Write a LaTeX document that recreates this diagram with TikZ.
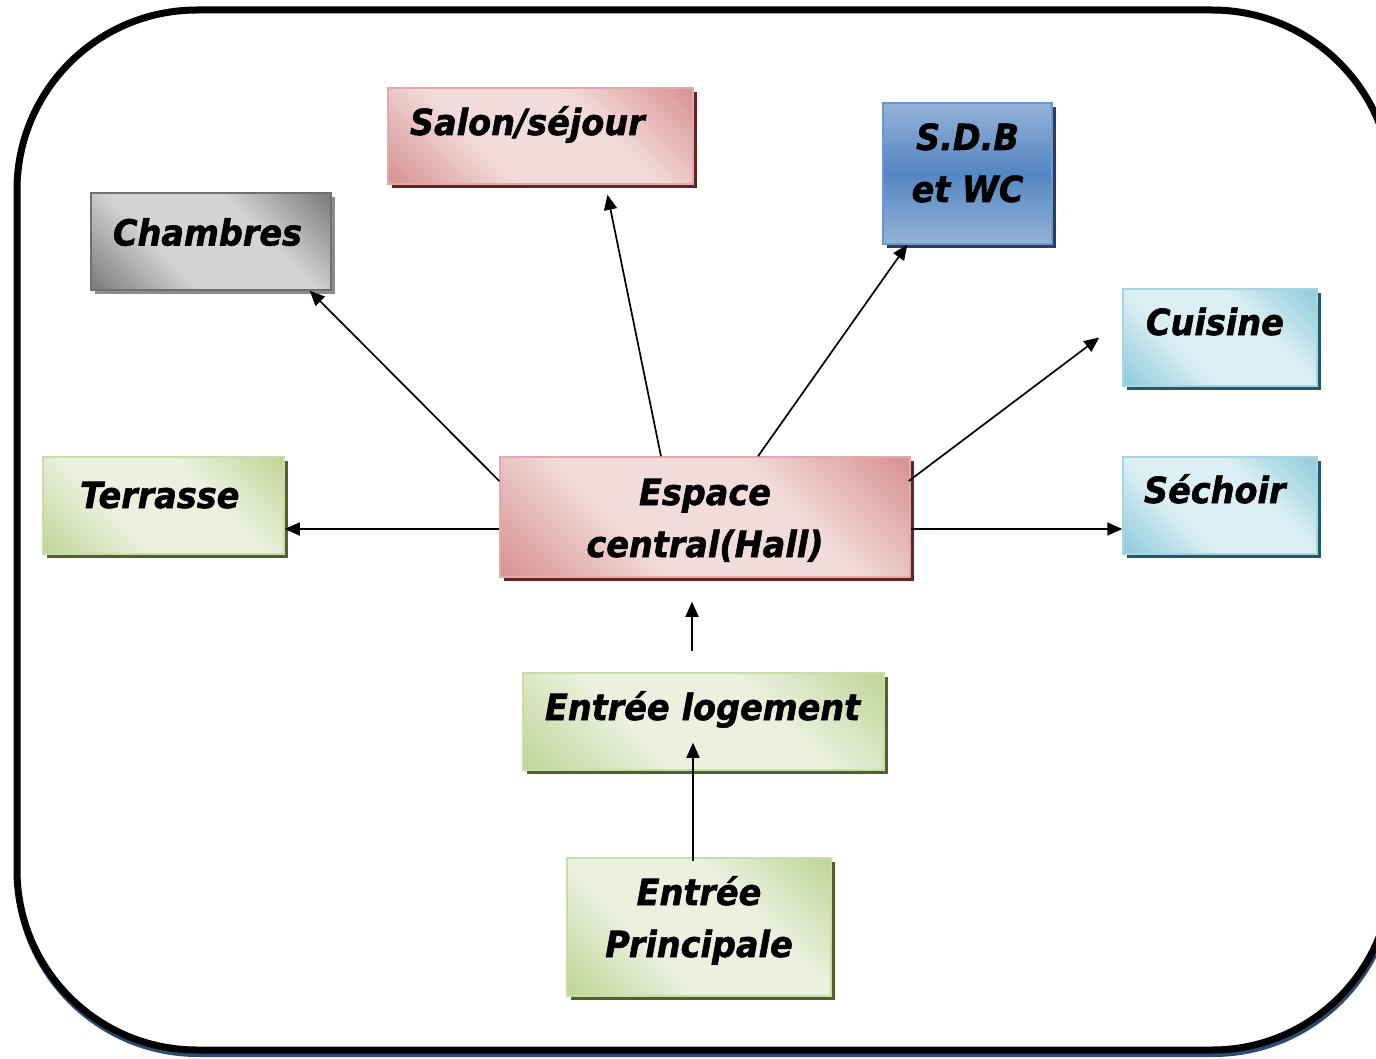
\documentclass[tikz,border=0pt]{standalone}
\usepackage{fontspec}
\setmainfont{DejaVu Sans}[
  BoldFont={DejaVu Sans Bold},
  ItalicFont={DejaVu Sans Oblique},
  BoldItalicFont={DejaVu Sans Bold Oblique},
  BoldItalicFeatures={FakeBold=1.5, FakeStretch=0.93}]
\usetikzlibrary{arrows.meta,shadows,calc}

% palette
\definecolor{pinkDark}{HTML}{D99594}
\definecolor{pinkLight}{HTML}{F2DCDB}
\definecolor{pinkEdge}{HTML}{E2ABAA}
\definecolor{pinkShadow}{HTML}{632523}
\definecolor{greenDark}{HTML}{C2D69B}
\definecolor{greenLight}{HTML}{EBF1DE}
\definecolor{greenEdge}{HTML}{CADCA8}
\definecolor{greenShadow}{HTML}{4F6228}
\definecolor{cyanDark}{HTML}{92CDDC}
\definecolor{cyanLight}{HTML}{DCEFF4}
\definecolor{cyanEdge}{HTML}{A5D6E2}
\definecolor{cyanShadow}{HTML}{215968}
\definecolor{grayDark}{HTML}{7F7F7F}
\definecolor{grayLight}{HTML}{D4D4D4}
\definecolor{grayEdge}{HTML}{707070}
\definecolor{grayShadow}{HTML}{8C8C8C}
\definecolor{blueLight}{HTML}{95B3D7}
\definecolor{blueMid}{HTML}{5585C2}
\definecolor{blueEdge}{HTML}{6A98CF}
\definecolor{blueShadow}{HTML}{243F60}
\definecolor{frameShadow}{HTML}{2B4C72}

% diagonal fills: dark corners, wide light band
\newcommand{\declarediag}[3]{%
  \pgfdeclareverticalshading{#1}{100bp}{%
    color(0bp)=(#2); color(16bp)=(#2); color(38bp)=(#3);
    color(62bp)=(#3); color(84bp)=(#2); color(100bp)=(#2)}}
\declarediag{pinkshade}{pinkDark}{pinkLight}
\declarediag{greenshade}{greenDark}{greenLight}
\declarediag{cyanshade}{cyanDark}{cyanLight}
\declarediag{grayshade}{grayDark}{grayLight}
\pgfdeclareverticalshading{blueshade}{100bp}{%
  color(0bp)=(blueLight); color(25bp)=(blueLight); color(50bp)=(blueMid);
  color(75bp)=(blueLight); color(100bp)=(blueLight)}

\tikzset{
  box/.style={draw, line width=1.5pt, inner sep=0pt,
    font=\fontsize{36}{52}\selectfont\bfseries\itshape, text=black},
  diag/.style n args={3}{shade, shading=#1, shading angle=-45, draw=#2,
    drop shadow={shadow xshift=4pt, shadow yshift=-4pt, fill=#3, opacity=1}},
  pinkbox/.style={diag={pinkshade}{pinkEdge}{pinkShadow}},
  greenbox/.style={diag={greenshade}{greenEdge}{greenShadow}},
  cyanbox/.style={diag={cyanshade}{cyanEdge}{cyanShadow}},
  graybox/.style={diag={grayshade}{grayEdge}{grayShadow}},
  bluebox/.style={shade, shading=blueshade, draw=blueEdge,
    drop shadow={shadow xshift=4pt, shadow yshift=-4pt, fill=blueShadow, opacity=1}},
  leftText/.style={text width=#1, align=left},
  arr/.style={line width=1.7pt, -{Triangle[length=15pt,width=13pt]}},
}

\begin{document}
\begin{tikzpicture}[x=1pt,y=-1pt]
\useasboundingbox (0,0) rectangle (1376,1059);
\clip (0,0) rectangle (1376,1059);

% outer rounded frame: shadow, white inside, black outline
\draw[line width=7pt, draw=frameShadow, rounded corners=180pt] (18,13.5) rectangle (1393,1053.5);
\fill[white, rounded corners=180pt] (17,10) rectangle (1392,1050);
\draw[line width=7pt, draw=black, rounded corners=180pt] (17,10) rectangle (1392,1050);

% rooms
\node[box, graybox, minimum width=240pt, minimum height=97pt, leftText=196pt,
      text height=14pt, text depth=6pt] (chambres) at (211,241.5) {Chambres};
\node[box, pinkbox, minimum width=305pt, minimum height=96pt, leftText=261pt,
      text height=10pt, text depth=12pt] (salon) at (540.5,136) {Salon/séjour};
\node[box, bluebox, minimum width=169pt, minimum height=141pt,
      text height=0pt, text depth=47pt] (sdb) at (967.5,173.5)
      {\begin{tabular}[t]{@{}c@{}}S.D.B\\et WC\end{tabular}};
\node[box, cyanbox, minimum width=194pt, minimum height=97pt, leftText=148pt,
      text height=7.5pt, text depth=12.5pt] (cuisine) at (1220,337.5) {Cuisine};
\node[box, cyanbox, minimum width=194pt, minimum height=97pt, leftText=152pt,
      text height=7.5pt, text depth=12.5pt] (sechoir) at (1220,505.5) {Séchoir};
\node[box, greenbox, minimum width=241pt, minimum height=97pt, leftText=167pt,
      text height=12.5pt, text depth=7.5pt] (terrasse) at (163.5,505.5) {Terrasse};
\node[box, pinkbox, minimum width=410pt, minimum height=120pt,
      text height=0pt, text depth=24pt] (hall) at (705,517)
      {\begin{tabular}[t]{@{}c@{}}Espace\\central(Hall)\end{tabular}};
\node[box, greenbox, minimum width=361pt, minimum height=97pt, leftText=317pt,
      text height=8.5pt, text depth=11.5pt] (logement) at (703.5,721.5)
      {\mbox{Entrée logement}};
\node[box, greenbox, minimum width=264pt, minimum height=138pt,
      text height=0pt, text depth=44pt] (principale) at (699,927)
      {\begin{tabular}[t]{@{}c@{}}Entrée\\Principale\end{tabular}};

% connectors from the central hall
\coordinate (hw) at ($(hall.west)+(0,12)$);
\draw[arr] ($(hall.west)+(0,-36)$) -- ($(chambres.south east)+(-22,0)$);
\draw[arr] ($(hall.north)+(-44,0)$) -- ($(salon.south)+(67,10)$);
\draw[arr] ($(hall.north)+(53,0)$) -- ($(sdb.south west)+(25,0)$);
\draw[arr] ($(hall.east)+(-2,-36)$) -- ($(cuisine.west)+(-23,0)$);
\draw[arr] (hw) -- (hw -| terrasse.east);
\draw[arr] (hw -| hall.east) -- (hw -| sechoir.west);

% entrance side
\coordinate (gapA) at ($(hall.south)+(-13,73)$);
\coordinate (gapB) at ($(hall.south)+(-13,24)$);
\draw[arr] (gapA) -- (gapB);
\draw[arr] ($(principale.north)+(-6,4)$) -- ($(logement.south)+(-10.5,-28)$);
\end{tikzpicture}
\end{document}
